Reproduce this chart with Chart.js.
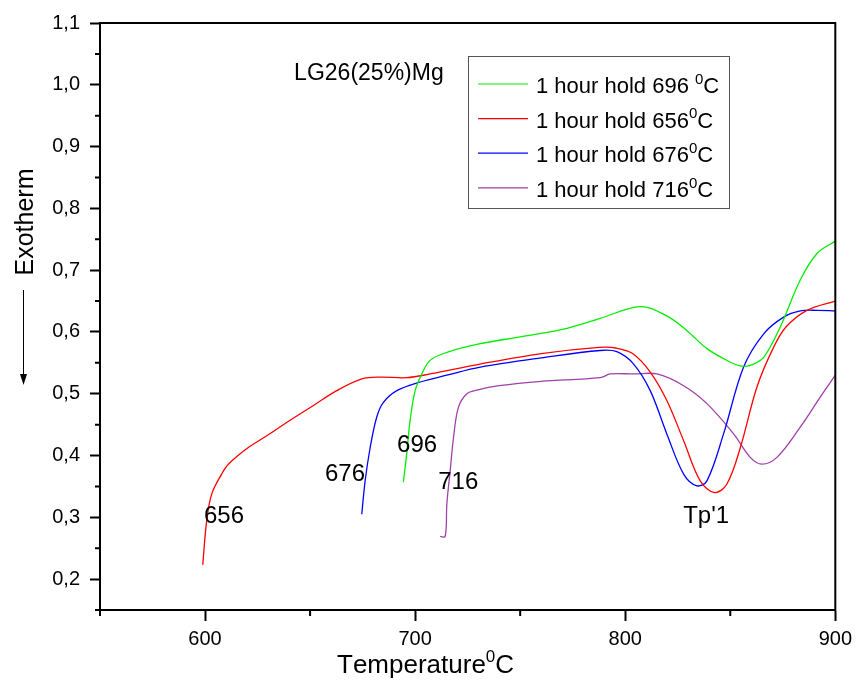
<!DOCTYPE html>
<html>
<head>
<meta charset="utf-8">
<script src="https://cdn.jsdelivr.net/npm/chart.js@4/dist/chart.umd.min.js"></script>
<style>
  html, body { margin: 0; padding: 0; background: #fff; }
  canvas { display: block; }
</style>
</head>
<body>
<canvas id="chart" width="858" height="686"></canvas>
<script>
/* Tick values */
const xTicks = [600, 700, 800, 900];
const xMinor = [550, 650, 750, 850];
const yTicks = [0.2, 0.3, 0.4, 0.5, 0.6, 0.7, 0.8, 0.9, 1.0, 1.1];
const yMinor = [0.15, 0.25, 0.35, 0.45, 0.55, 0.65, 0.75, 0.85, 0.95, 1.05];

/* Series */
const greenX = [694.4, 696, 697.6, 700, 703.2, 707.1, 715.1, 731, 750, 770, 788.1, 807.1, 819.8, 829.4, 838.9, 848.4, 854.8, 859.5, 865.9, 873.8, 883.3, 891.3, 900];
const greenY = [0.357, 0.403, 0.457, 0.505, 0.532, 0.554, 0.567, 0.581, 0.592, 0.604, 0.622, 0.641, 0.626, 0.602, 0.573, 0.554, 0.545, 0.546, 0.559, 0.608, 0.684, 0.727, 0.747];

const redX = [598.9, 600.8, 603.2, 607.9, 611.1, 619.8, 629.4, 640.5, 651.6, 662.7, 674.6, 683.3, 696, 707.1, 730.9, 760, 787.6, 795.6, 803.5, 811.9, 819.8, 827.8, 835.7, 842.5, 848.4, 854.8, 862.7, 870.6, 876.5, 886.5, 900];
const redY = [0.223, 0.295, 0.338, 0.370, 0.386, 0.411, 0.432, 0.457, 0.481, 0.505, 0.524, 0.527, 0.526, 0.532, 0.548, 0.565, 0.575, 0.574, 0.565, 0.535, 0.489, 0.424, 0.359, 0.340, 0.354, 0.413, 0.511, 0.575, 0.608, 0.635, 0.650];

const blueX = [674.6, 676.2, 678.6, 681.7, 684.9, 691.3, 702.4, 715.1, 731, 760, 788.1, 796, 804, 811.9, 819.8, 827.8, 834.1, 838.9, 846.8, 856.3, 865.9, 875.4, 883.3, 891.3, 900];
const blueY = [0.305, 0.359, 0.413, 0.462, 0.486, 0.505, 0.519, 0.530, 0.543, 0.558, 0.570, 0.568, 0.548, 0.505, 0.435, 0.370, 0.351, 0.359, 0.435, 0.543, 0.597, 0.624, 0.634, 0.635, 0.634];

const purpleX = [711.9, 714.3, 715.1, 716.7, 718.3, 720.6, 724.6, 729.4, 740, 760, 788.1, 792.9, 804, 815.1, 827.8, 838.9, 851.6, 859.5, 865.1, 872.2, 883.3, 892.9, 900];
const purpleY = [0.269, 0.269, 0.322, 0.376, 0.430, 0.478, 0.500, 0.506, 0.513, 0.520, 0.526, 0.532, 0.532, 0.532, 0.513, 0.484, 0.435, 0.397, 0.386, 0.397, 0.446, 0.495, 0.530];

/* Legend labels: "^" marks a superscript character */
const legendLabels = ["1 hour hold 696 ^0C", "1 hour hold 656^0C", "1 hour hold 676^0C", "1 hour hold 716^0C"];

/* Text placed in data coordinates */
const notes = [
  { text: "656", x: 599.5, y: 0.290 },
  { text: "676", x: 657.1, y: 0.359 },
  { text: "696", x: 691.4, y: 0.405 },
  { text: "716", x: 711.0, y: 0.346 },
  { text: "Tp'1", x: 827.6, y: 0.290 },
  { text: "LG26(25%)Mg", x: 642.4, y: 1.008 }
];

const FONT = "'Liberation Sans', Arial, sans-serif";

function pts(xs, ys) {
  return xs.map((x, i) => ({ x: x, y: ys[i] }));
}

function line(label, xs, ys, color) {
  return {
    label: label,
    data: pts(xs, ys),
    borderColor: color,
    backgroundColor: color,
    borderWidth: 1.3,
    pointRadius: 0,
    tension: 0.35,
    fill: false
  };
}

/* draw text with ^x superscripts */
function supText(ctx, str, x, y, size) {
  let cx = x;
  for (let i = 0; i < str.length; i++) {
    if (str[i] === "^") {
      i++;
      ctx.font = Math.round(size * 0.66) + "px " + FONT;
      ctx.fillText(str[i], cx, y - size * 0.42);
      cx += ctx.measureText(str[i]).width;
    } else {
      ctx.font = size + "px " + FONT;
      ctx.fillText(str[i], cx, y);
      cx += ctx.measureText(str[i]).width;
    }
  }
}

const extras = {
  id: "extras",
  afterDraw(chart) {
    const ctx = chart.ctx;
    const a = chart.chartArea;
    const xs = chart.scales.x, ys = chart.scales.y;
    ctx.save();

    /* top and right frame */
    ctx.strokeStyle = "#000";
    ctx.lineWidth = 2;
    ctx.beginPath();
    ctx.moveTo(a.left - 1, a.top);
    ctx.lineTo(a.right, a.top);
    ctx.lineTo(a.right, a.bottom + 1);
    ctx.stroke();

    /* minor ticks */
    ctx.beginPath();
    yMinor.forEach(v => {
      const py = ys.getPixelForValue(v);
      ctx.moveTo(a.left, py);
      ctx.lineTo(a.left - 5, py);
    });
    xMinor.forEach(v => {
      const px = xs.getPixelForValue(v);
      ctx.moveTo(px, a.bottom);
      ctx.lineTo(px, a.bottom + 6);
    });
    ctx.stroke();

    /* notes */
    ctx.fillStyle = "#000";
    ctx.textBaseline = "alphabetic";
    ctx.textAlign = "left";
    notes.forEach(n => {
      ctx.font = (n.text.startsWith("LG") ? 23 : 24) + "px " + FONT;
      ctx.fillText(n.text, xs.getPixelForValue(n.x), ys.getPixelForValue(n.y));
    });

    /* legend box */
    const lx = 468, ly = 56, lw = 261, lh = 152;
    ctx.strokeStyle = "#555";
    ctx.lineWidth = 1;
    ctx.strokeRect(lx + 0.5, ly + 0.5, lw, lh);
    chart.data.datasets.forEach((ds, i) => {
      const rowY = 84 + i * 34.6;
      ctx.strokeStyle = ds.borderColor;
      ctx.lineWidth = 1.2;
      ctx.beginPath();
      ctx.moveTo(478, rowY);
      ctx.lineTo(528, rowY);
      ctx.stroke();
      ctx.fillStyle = "#000";
      supText(ctx, legendLabels[i], 536, rowY + 9, 22);
    });

    /* x title */
    ctx.fillStyle = "#000";
    supText(ctx, "Temperature^0C", 337, 673, 26);

    /* y title with arrow */
    ctx.save();
    ctx.translate(33, 222);
    ctx.rotate(-Math.PI / 2);
    ctx.font = "25px " + FONT;
    ctx.textAlign = "center";
    ctx.fillText("Exotherm", 0, 0);
    ctx.restore();

    ctx.strokeStyle = "#000";
    ctx.lineWidth = 1;
    ctx.beginPath();
    ctx.moveTo(23.5, 290);
    ctx.lineTo(23.5, 376);
    ctx.stroke();
    ctx.beginPath();
    ctx.moveTo(20, 374);
    ctx.lineTo(27, 374);
    ctx.lineTo(23.5, 385);
    ctx.closePath();
    ctx.fill();

    ctx.restore();
  }
};

new Chart(document.getElementById("chart"), {
  type: "line",
  data: {
    datasets: [
      line("1 hour hold 696 0C", greenX, greenY, "#00ee00"),
      line("1 hour hold 6560C", redX, redY, "#ff0000"),
      line("1 hour hold 6760C", blueX, blueY, "#0000ff"),
      line("1 hour hold 7160C", purpleX, purpleY, "#a040a8")
    ]
  },
  options: {
    responsive: false,
    animation: false,
    devicePixelRatio: 1,
    layout: { padding: { top: 23, right: 22, left: 0, bottom: 0 } },
    plugins: { legend: { display: false }, tooltip: { enabled: false } },
    scales: {
      x: {
        type: "linear",
        min: 550,
        max: 900,
        afterBuildTicks: s => { s.ticks = xTicks.map(v => ({ value: v })); },
        afterFit: s => { s.height = 76; },
        ticks: {
          color: "#000",
          font: { family: FONT, size: 20 },
          padding: 6,
          maxRotation: 0,
          autoSkip: false,
          callback: v => String(v)
        },
        grid: { drawOnChartArea: false, tickLength: 11, tickColor: "#000", tickWidth: 2 },
        border: { color: "#000", width: 2 }
      },
      y: {
        type: "linear",
        min: 0.15,
        max: 1.1,
        afterBuildTicks: s => { s.ticks = yTicks.map(v => ({ value: v })); },
        afterFit: s => { s.width = 100; },
        ticks: {
          color: "#000",
          font: { family: FONT, size: 20 },
          padding: 10,
          autoSkip: false,
          callback: v => v.toFixed(1).replace(".", ",")
        },
        grid: { drawOnChartArea: false, tickLength: 10, tickColor: "#000", tickWidth: 2 },
        border: { color: "#000", width: 2 }
      }
    }
  },
  plugins: [extras]
});
</script>
</body>
</html>
